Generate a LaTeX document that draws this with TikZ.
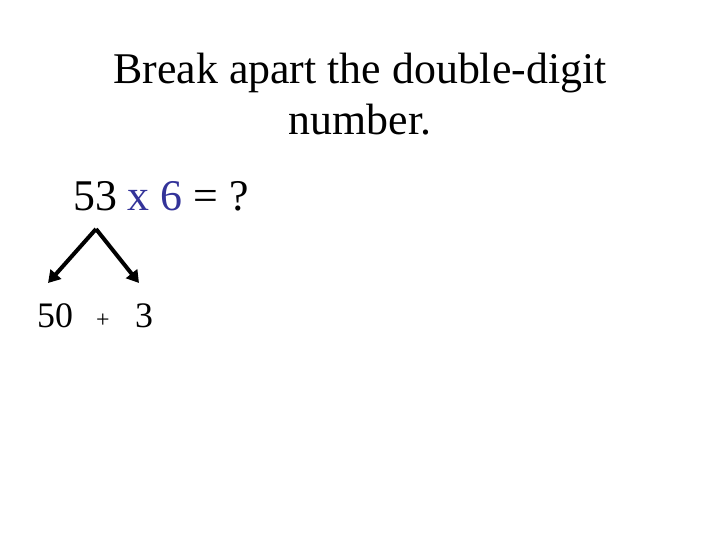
\documentclass[tikz,border=0pt]{standalone}
\usepackage{fontspec}
\setmainfont{Liberation Serif}
\usepackage{xcolor}
\usetikzlibrary{arrows.meta,positioning}
\definecolor{eqblue}{RGB}{51,51,153}

\begin{document}
\begin{tikzpicture}[x=1bp,y=-1bp,
    branch/.style={line width=4bp,-{Triangle[length=12bp,width=14bp]}}]
        \useasboundingbox (0,0) rectangle (720,540);
        \node[anchor=base,align=center,font=\fontsize{44}{52}\selectfont,inner sep=0] (title) at (360,135) {Break apart the double-digit\\number.};
        \node[anchor=base west,font=\fontsize{44}{52}\selectfont,inner sep=0] (sum) at (73,211) {53 \textcolor{eqblue}{x 6} = ?};
        \node[anchor=base west,font=\fontsize{36}{42}\selectfont,inner sep=0] (tens) at (37,327) {50};
        \node[anchor=base west,font=\fontsize{24}{28}\selectfont,inner sep=0] (plus) at (96,327) {+};
        \node[anchor=base west,font=\fontsize{36}{42}\selectfont,inner sep=0] (ones) at (135,327) {3};
        \coordinate (apex) at (96,229);
        \coordinate (lefttip) at (48,283);
        \coordinate (righttip) at (139,283);
        \draw[branch] (apex) -- (lefttip);
        \draw[branch] (apex) -- (righttip);
    \end{tikzpicture}
\end{document}
